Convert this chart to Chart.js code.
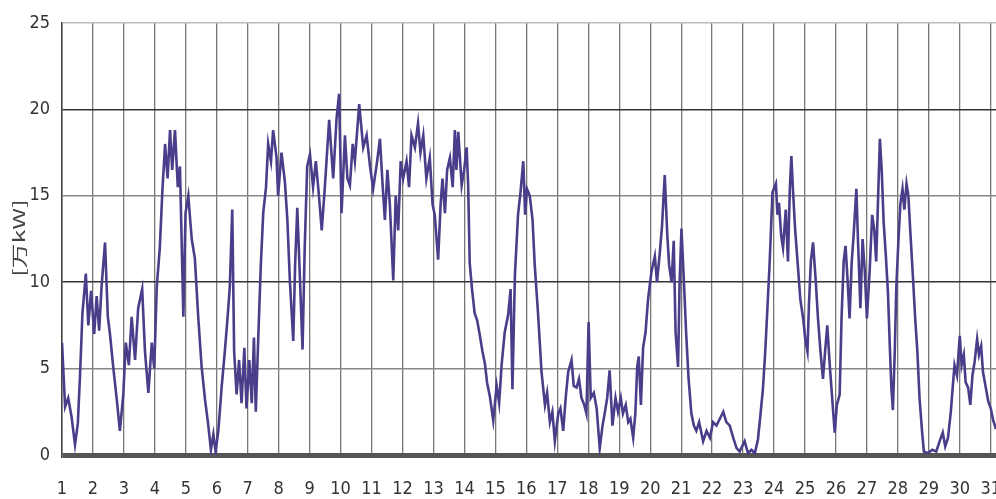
<!DOCTYPE html>
<html>
<head>
<meta charset="utf-8">
<script src="https://cdn.jsdelivr.net/npm/chart.js@4/dist/chart.umd.min.js"></script>
<style>
  body { margin: 0; background: #fff; }
  #chart { display: block; }
</style>
</head>
<body>
<canvas id="chart" width="996" height="499"></canvas>
<script>
/* data: day of month (fractional) and output in 万kW */
const days = [
  1.00, 1.10, 1.20, 1.31, 1.42, 1.51, 1.58, 1.66, 1.77, 1.85, 1.94,
  2.04, 2.12, 2.20, 2.28, 2.39, 2.48, 2.55, 2.66, 2.77, 2.87, 2.98,
  3.06, 3.16, 3.25, 3.36, 3.46, 3.59, 3.68, 3.79, 3.90, 3.98,
  4.06, 4.16, 4.24, 4.33, 4.41, 4.49, 4.56, 4.65, 4.74, 4.81, 4.92, 4.99,
  5.08, 5.19, 5.29, 5.40, 5.51, 5.62, 5.72, 5.81, 5.89, 5.96,
  6.05, 6.16, 6.26, 6.35, 6.42, 6.50, 6.56, 6.64, 6.72, 6.80, 6.89, 6.96,
  7.05, 7.13, 7.20, 7.26, 7.34, 7.42, 7.50, 7.59, 7.66, 7.75, 7.82, 7.93, 7.98,
  8.09, 8.20, 8.28, 8.36, 8.47, 8.53, 8.60, 8.68, 8.77, 8.84, 8.92,
  9.01, 9.11, 9.20, 9.30, 9.39, 9.49, 9.63, 9.76, 9.87, 9.95,
  10.03, 10.14, 10.22, 10.30, 10.39, 10.46, 10.60, 10.73, 10.84, 10.95,
  11.05, 11.18, 11.27, 11.36, 11.43, 11.51, 11.59, 11.70, 11.78, 11.86, 11.94,
  12.02, 12.13, 12.21, 12.29, 12.40, 12.50, 12.58, 12.67, 12.77, 12.88, 12.97,
  13.04, 13.15, 13.23, 13.29, 13.37, 13.44, 13.53, 13.62, 13.69, 13.74, 13.80, 13.91, 13.99,
  14.07, 14.12, 14.17, 14.25, 14.33, 14.41, 14.49, 14.58, 14.66, 14.73, 14.82, 14.93,
  15.04, 15.12, 15.20, 15.30, 15.41, 15.49, 15.55, 15.63, 15.73, 15.81, 15.90, 15.96,
  16.02, 16.11, 16.20, 16.27, 16.38, 16.49, 16.60, 16.67, 16.76, 16.84, 16.92,
  17.03, 17.10, 17.19, 17.27, 17.35, 17.46, 17.53, 17.62, 17.70, 17.78, 17.87, 17.94,
  18.01, 18.08, 18.18, 18.27, 18.37, 18.46, 18.53, 18.61, 18.69, 18.78, 18.88, 18.96,
  19.05, 19.12, 19.21, 19.29, 19.36, 19.45, 19.52, 19.58, 19.63, 19.70, 19.77, 19.85, 19.93,
  20.04, 20.15, 20.22, 20.31, 20.38, 20.47, 20.55, 20.61, 20.69, 20.76, 20.82, 20.90, 20.95,
  21.01, 21.09, 21.16, 21.24, 21.33, 21.41, 21.49, 21.58, 21.71, 21.82, 21.93,
  22.03, 22.14, 22.25, 22.36, 22.46, 22.57, 22.68, 22.79, 22.89,
  23.05, 23.16, 23.27, 23.38, 23.48, 23.56, 23.64, 23.71, 23.77, 23.86, 23.95,
  24.06, 24.11, 24.16, 24.23, 24.29, 24.38, 24.45, 24.51, 24.56, 24.61, 24.68, 24.78, 24.85, 24.94,
  25.01, 25.08, 25.13, 25.19, 25.26, 25.35, 25.42, 25.50, 25.58, 25.65, 25.72, 25.80, 25.87, 25.96,
  26.03, 26.12, 26.18, 26.25, 26.31, 26.38, 26.44, 26.51, 26.57, 26.66, 26.71, 26.79, 26.86, 26.93,
  27.00, 27.09, 27.17, 27.24, 27.30, 27.37, 27.42, 27.48, 27.54, 27.61, 27.68, 27.74, 27.79, 27.84, 27.90, 27.95,
  28.02, 28.08, 28.15, 28.21, 28.28, 28.34, 28.40, 28.49, 28.56, 28.63, 28.70, 28.78, 28.84, 28.97,
  29.11, 29.24, 29.35, 29.45, 29.53, 29.62, 29.71, 29.78, 29.83, 29.91,
  30.00, 30.06, 30.13, 30.19, 30.27, 30.34, 30.41, 30.48, 30.56, 30.62, 30.69, 30.75, 30.84, 30.92,
  31.00, 31.08, 31.17
]

const load = [
  6.5, 2.8, 3.3, 2.2, 0.6, 1.8, 4.5, 8.2, 10.5, 7.5, 9.5,
  7.0, 9.2, 7.2, 9.8, 12.3, 8.0, 7.0, 5.0, 3.2, 1.4, 3.5,
  6.5, 5.2, 8.0, 5.5, 8.5, 9.6, 6.0, 3.6, 6.5, 5.0,
  9.7, 12.0, 15.2, 18.0, 16.0, 18.8, 16.5, 18.8, 15.5, 16.7, 8.0, 14.0,
  15.0, 12.5, 11.4, 8.0, 5.1, 3.2, 1.8, 0.3, 1.2, 0.2,
  1.4, 4.0, 6.0, 8.0, 9.7, 14.2, 6.0, 3.5, 5.5, 3.0, 6.2, 2.7,
  5.5, 3.0, 6.8, 2.5, 6.8, 10.9, 14.0, 15.5, 18.0, 17.0, 18.8, 17.2, 15.0,
  17.5, 15.8, 13.6, 10.1, 6.6, 11.0, 14.3, 10.5, 6.1, 12.0, 16.7,
  17.4, 15.5, 17.0, 15.0, 13.0, 15.5, 19.4, 16.0, 19.5, 20.9,
  14.0, 18.5, 16.0, 15.6, 18.0, 17.0, 20.3, 17.8, 18.5, 16.7,
  15.4, 17.0, 18.3, 15.5, 13.6, 16.5, 14.5, 10.1, 15.0, 13.0, 17.0,
  16.0, 17.0, 15.5, 18.5, 17.8, 19.2, 17.5, 18.5, 16.0, 17.2, 14.5,
  13.9, 11.3, 14.5, 16.0, 14.0, 16.5, 17.2, 15.5, 18.8, 16.5, 18.7, 15.6, 16.5,
  17.8, 15.6, 11.1, 9.5, 8.2, 7.8, 7.0, 6.0, 5.3, 4.2, 3.4, 2.0,
  4.0, 3.0, 5.2, 7.1, 8.1, 9.6, 3.8, 10.4, 13.9, 15.2, 17.0, 13.9,
  15.4, 15.0, 13.6, 11.0, 8.1, 4.8, 2.9, 3.6, 1.9, 2.5, 0.8,
  2.4, 2.7, 1.4, 3.3, 4.8, 5.5, 4.0, 3.9, 4.4, 3.3, 2.9, 2.4,
  7.7, 3.3, 3.6, 2.7, 0.4, 1.7, 2.4, 3.3, 4.9, 1.7, 3.3, 2.5,
  3.3, 2.4, 2.9, 1.9, 2.1, 1.0, 2.4, 5.1, 5.7, 2.9, 6.2, 7.1, 9.0,
  10.6, 11.5, 10.0, 11.7, 13.2, 16.2, 12.8, 11.0, 10.0, 12.4, 7.1, 5.1, 10.0,
  13.1, 10.0, 7.1, 4.4, 2.4, 1.7, 1.4, 1.9, 0.8, 1.4, 1.0,
  1.9, 1.7, 2.1, 2.5, 1.9, 1.7, 1.0, 0.4, 0.2,
  0.8, 0.1, 0.3, 0.1, 0.9, 2.3, 3.8, 5.8, 7.9, 11.2, 15.2,
  15.7, 13.9, 14.6, 12.7, 12.0, 14.2, 11.2, 15.4, 17.3, 15.4, 13.1, 10.7, 9.0, 7.9,
  6.7, 6.0, 8.8, 11.2, 12.3, 10.0, 7.9, 6.0, 4.4, 6.0, 7.5, 5.2, 3.5, 1.3,
  2.9, 3.5, 7.9, 11.2, 12.1, 10.0, 7.9, 11.2, 12.7, 15.4, 12.5, 8.5, 12.5, 10.7,
  7.9, 10.7, 13.9, 13.0, 11.2, 15.4, 18.3, 16.4, 13.5, 11.6, 9.4, 6.3, 3.9, 2.6, 6.0, 9.7,
  12.5, 14.5, 15.4, 14.2, 15.7, 15.0, 13.0, 10.2, 7.9, 6.0, 3.3, 1.4, 0.2, 0.1,
  0.3, 0.2, 0.8, 1.3, 0.5, 1.0, 2.5, 4.1, 5.2, 4.6,
  6.9, 5.2, 5.8, 4.2, 3.9, 2.9, 4.6, 5.4, 6.7, 5.8, 6.3, 4.8, 3.9, 3.1,
  2.7, 2.0, 1.5
]

const dayLabels = [1, 2, 3, 4, 5, 6, 7, 8, 9, 10, 11, 12, 13, 14, 15, 16,
                   17, 18, 19, 20, 21, 22, 23, 24, 25, 26, 27, 28, 29, 30, 31]
const yTicks = [0, 5, 10, 15, 20, 25]
const yTitle = '[万kW]'

const tickFont = { family: "'Liberation Sans Narrow', 'Arial Narrow', 'DejaVu Sans Condensed', sans-serif", size: 18 }

function gridColor(ctx) {
    const v = ctx.tick ? ctx.tick.value : null
    if (v === 0) return '#555'
    if (v === 25) return '#bbb'
    if (v === 20 || v === 10) return '#333'
    return '#888'
}

// rotated, stretched axis title like the scanned original
const yTitlePlugin = {
    id: 'yTitle',
    afterDraw(chart) {
        const c = chart.ctx
        c.save()
        c.translate(19, 238)
        c.rotate(-Math.PI / 2)
        c.scale(1.55, 1)
        c.font = "16px 'Noto Sans CJK JP', sans-serif"
        c.fillStyle = '#444'
        c.textAlign = 'center'
        c.textBaseline = 'middle'
        c.fillText(yTitle, 0, 0)
        c.restore()
    }
}

const ctx = document.getElementById('chart').getContext('2d')
const myChart = new Chart(ctx, {
    type: 'scatter',
    data: {
        datasets: [{
            data: days.map(function(d, i) { return { x: d, y: load[i] } }),
            showLine: true,
            borderColor: '#4b3d8a',
            borderWidth: 2.6,
            pointRadius: 0,
            tension: 0
        }]
    },
    options: {
        responsive: false,
        animation: false,
        devicePixelRatio: 1,
        layout: { padding: { left: 0, top: 23, right: 0, bottom: 0 } },
        plugins: {
            legend: { display: false },
            tooltip: { enabled: false }
        },
        scales: {
            x: {
                type: 'linear',
                min: 1,
                max: 31.17,
                afterBuildTicks: function(scale) {
                    scale.ticks = dayLabels.map(function(d) { return { value: d } })
                },
                afterFit: function(scale) {
                    scale.height = 44
                    scale.paddingLeft = 0
                    scale.paddingRight = 0
                },
                ticks: {
                    autoSkip: false,
                    maxRotation: 0,
                    padding: 24,
                    color: '#333',
                    font: tickFont,
                    callback: function(v) { return String(v) }
                },
                grid: { color: '#777', lineWidth: 1.3, drawTicks: false },
                border: { display: false }
            },
            y: {
                min: 0,
                max: 25,
                afterBuildTicks: function(scale) {
                    scale.ticks = yTicks.map(function(v) { return { value: v } })
                },
                afterFit: function(scale) { scale.width = 62 },
                ticks: {
                    padding: 12,
                    color: '#333',
                    font: tickFont
                },
                grid: {
                    color: gridColor,
                    lineWidth: function(c) { return c.tick && c.tick.value === 0 ? 5 : 1.5 },
                    drawTicks: false
                },
                border: { display: true, color: '#444', width: 1.5 }
            }
        }
    },
    plugins: [yTitlePlugin]
})
</script>
</body>
</html>
